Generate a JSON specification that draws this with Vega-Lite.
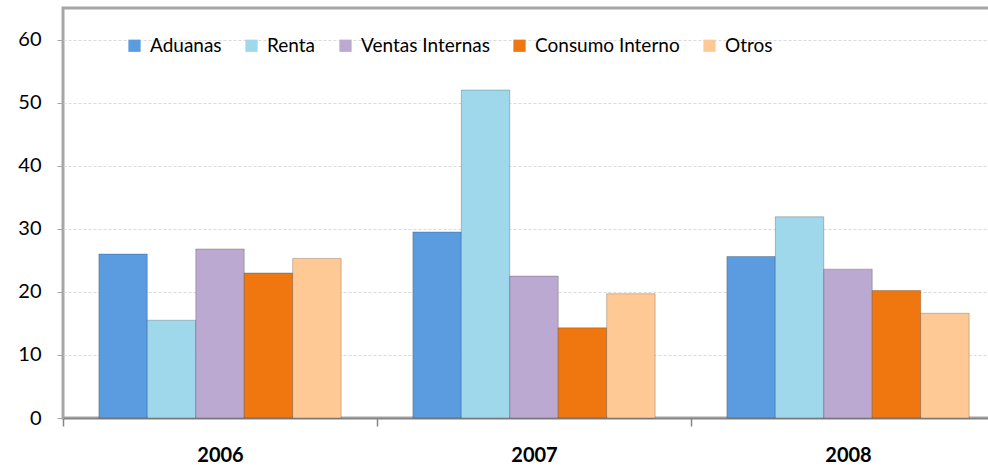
{
  "$schema": "https://vega.github.io/schema/vega-lite/v6.json",
  "width": 942,
  "height": 410,
  "autosize": {"type": "none"},
  "padding": {"left": 63, "top": 8, "right": 0, "bottom": 51},
  "background": "white",
  "config": {
    "view": {"stroke": "#A6A6A6", "strokeWidth": 3},
    "font": "Lato"
  },
  "data": {
    "values": [
      {"year": "2006", "cat": "Aduanas", "v": 26.0},
      {"year": "2006", "cat": "Renta", "v": 15.5},
      {"year": "2006", "cat": "Ventas Internas", "v": 26.8},
      {"year": "2006", "cat": "Consumo Interno", "v": 23.0},
      {"year": "2006", "cat": "Otros", "v": 25.3},
      {"year": "2007", "cat": "Aduanas", "v": 29.5},
      {"year": "2007", "cat": "Renta", "v": 52.0},
      {"year": "2007", "cat": "Ventas Internas", "v": 22.5},
      {"year": "2007", "cat": "Consumo Interno", "v": 14.3},
      {"year": "2007", "cat": "Otros", "v": 19.7},
      {"year": "2008", "cat": "Aduanas", "v": 25.6},
      {"year": "2008", "cat": "Renta", "v": 31.9},
      {"year": "2008", "cat": "Ventas Internas", "v": 23.6},
      {"year": "2008", "cat": "Consumo Interno", "v": 20.2},
      {"year": "2008", "cat": "Otros", "v": 16.6}
    ]
  },
  "mark": {"type": "bar", "stroke": "#000000", "strokeOpacity": 0.22, "strokeWidth": 1},
  "encoding": {
    "x": {
      "field": "year", "type": "nominal",
      "scale": {"paddingInner": 0, "paddingOuter": 0},
      "axis": {
        "title": null, "labelAngle": 0, "tickBand": "extent",
        "labelFont": "Lato", "labelFontSize": 20, "labelFontWeight": "bold", "labelColor": "#000000",
        "labelPadding": 19, "tickSize": 8, "tickColor": "#868686", "tickWidth": 1.5,
        "domainColor": "#868686", "domainWidth": 1.5, "grid": false
      }
    },
    "xOffset": {
      "field": "cat", "type": "nominal",
      "sort": ["Aduanas", "Renta", "Ventas Internas", "Consumo Interno", "Otros"],
      "scale": {"paddingInner": 0, "paddingOuter": 0.74}
    },
    "y": {
      "field": "v", "type": "quantitative",
      "scale": {"domain": [0, 65], "nice": false},
      "axis": {
        "title": null, "values": [0, 10, 20, 30, 40, 50, 60],
        "labelFont": "Lato", "labelFontSize": 20, "labelColor": "#000000", "labelPadding": 16,
        "tickSize": 6, "tickColor": "#A6A6A6", "domain": false,
        "grid": true, "gridColor": "#DADADA", "gridDash": [3, 2], "gridWidth": 1
      }
    },
    "color": {
      "field": "cat", "type": "nominal",
      "scale": {
        "domain": ["Aduanas", "Renta", "Ventas Internas", "Consumo Interno", "Otros"],
        "range": ["#5B9BE0", "#9ED8EA", "#BBA9D2", "#F0760F", "#FFC996"]
      },
      "legend": {
        "title": null, "orient": "none", "legendX": 62, "legendY": 28,
        "direction": "horizontal", "symbolType": "square", "symbolSize": 150,
        "symbolStrokeWidth": 0, "labelFont": "Lato", "labelFontSize": 19, "labelColor": "#000000",
        "columnPadding": 20, "labelOffset": 6
      }
    }
  }
}
